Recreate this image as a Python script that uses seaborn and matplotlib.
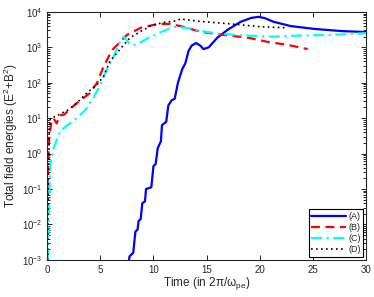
import matplotlib
matplotlib.use("Agg")
import matplotlib.pyplot as plt
import matplotlib.ticker as mticker
import seaborn as sns
import numpy as np
import pandas as pd

# curve (A): time and log10 energy
t_a = [7.7, 7.75, 8.1, 8.3, 8.5, 8.6, 8.8, 8.95, 9.2, 9.3, 9.8, 10.0, 10.2, 10.4, 10.7, 10.8,
       11.2, 11.4, 11.7, 12.0, 12.3, 12.7, 13.0, 13.3, 13.6, 14.0, 14.4, 14.7, 15.2, 16.0, 17.0,
       18.2, 19.2, 19.9, 20.5, 21.3, 22.9, 25.1, 27.6, 30.0]
e_a = [-3.0, -2.9, -2.8, -2.2, -2.15, -1.9, -1.85, -1.4, -1.35, -1.0, -0.95, -0.35, -0.3, 0.15, 0.35, 0.8,
       0.9, 1.36, 1.5, 1.55, 2.0, 2.38, 2.55, 2.9, 3.05, 3.12, 3.05, 2.95, 3.0, 3.27, 3.5,
       3.72, 3.83, 3.86, 3.82, 3.72, 3.6, 3.52, 3.46, 3.43]
# curve (B)
t_b = [0.05, 0.1, 0.2, 0.4, 0.6, 0.9, 1.2, 1.6, 2.3, 3.1, 4.0, 4.7, 5.3, 6.1, 6.7, 7.5, 8.8,
       10.4, 11.6, 12.8, 14.4, 16.6, 18.9, 20.8, 22.6, 24.5]
e_b = [-1.0, -0.2, 0.5, 0.87, 1.0, 0.85, 1.08, 1.1, 1.3, 1.5, 1.7, 2.0, 2.45, 2.92, 3.1, 3.35, 3.55,
       3.66, 3.66, 3.58, 3.44, 3.35, 3.27, 3.15, 3.07, 2.95]
# curve (C)
t_c = [0.05, 0.1, 0.2, 0.3, 0.6, 1.2, 1.9, 2.8, 3.6, 4.4, 5.0, 5.6, 6.3, 6.9, 7.2, 7.6, 8.0,
       8.6, 9.4, 10.7, 11.9, 13.1, 14.4, 16.3, 18.9, 21.3, 23.5, 26.7, 30.0]
e_c = [-3.0, -2.5, -1.2, -0.3, 0.14, 0.62, 0.8, 1.0, 1.23, 1.6, 1.95, 2.36, 2.78, 3.2, 3.3, 3.15, 3.05,
       3.1, 3.25, 3.43, 3.58, 3.55, 3.46, 3.38, 3.33, 3.3, 3.33, 3.35, 3.4]
# curve (D)
t_d = [0.05, 0.1, 0.2, 0.3, 0.8, 1.9, 2.8, 3.7, 4.7, 5.3, 5.9, 6.6, 7.2, 7.8, 8.8, 9.7, 10.9,
       12.2, 12.5, 14.4, 17.3, 20.1, 22.6]
e_d = [-3.0, -1.0, 0.62, 1.0, 1.05, 1.22, 1.43, 1.7, 1.95, 2.18, 2.6, 2.85, 3.07, 3.27, 3.45, 3.6, 3.7,
       3.75, 3.8, 3.73, 3.66, 3.58, 3.55]

labels = ["(A)", "(B)", "(C)", "(D)"]
series = [(t_a, e_a), (t_b, e_b), (t_c, e_c), (t_d, e_d)]
colors = ["#0000ff", "#ff0000", "#00ffff", "#000000"]
styles = ["-", (0, (4, 2.5)), (0, (5, 2, 1, 2)), (0, (1, 2))]

sns.set_style("ticks")
plt.rcParams["font.family"] = ["Liberation Sans", "DejaVu Sans"]
plt.rcParams["mathtext.fontset"] = "custom"
plt.rcParams["mathtext.rm"] = "Liberation Sans"
plt.rcParams["mathtext.it"] = "Liberation Sans"

fig = plt.figure(figsize=(3.74, 2.97), dpi=100)
ax = fig.add_axes([0.126, 0.125, 0.853, 0.835])

for (t, e), lab, c, ls in zip(series, labels, colors, styles):
    df = pd.DataFrame({"t": t, "E": 10 ** np.array(e)})
    sns.lineplot(data=df, x="t", y="E", ax=ax, color=c, linestyle=ls,
                 linewidth=1.6 if lab != "(D)" else 1.2, label=lab)

ax.set_yscale("log")
ax.set_xlim(0, 30)
ax.set_ylim(1e-3, 1e4)
ax.set_xticks([0, 5, 10, 15, 20, 25, 30])
ax.yaxis.set_major_locator(mticker.LogLocator(base=10, numticks=20))
ax.yaxis.set_minor_locator(mticker.LogLocator(base=10, subs=np.arange(2, 10), numticks=20))
ax.yaxis.set_minor_formatter(mticker.NullFormatter())
ax.tick_params(which="both", direction="in", top=True, right=True, labelsize=7,
               width=0.6, color="black")
ax.tick_params(which="major", length=3.5)
ax.tick_params(axis="y", which="minor", length=2.2, left=True, right=True)
for s in ax.spines.values():
    s.set_linewidth(0.8)
ax.set_xlabel(r"Time (in 2$\pi$/$\omega_{\rm pe}$)", fontsize=8.5, labelpad=0)
ax.set_ylabel(r"Total field energies (E$^2$+B$^2$)", fontsize=8.5, labelpad=1)

leg = ax.legend(loc="lower right", fontsize=6.5, frameon=True, fancybox=False,
                edgecolor="black", framealpha=1, handlelength=3.8, borderpad=0.3,
                labelspacing=0.25, handletextpad=0.3, borderaxespad=0.3)
leg.get_frame().set_linewidth(0.8)

fig.savefig("out.png", dpi=100)
